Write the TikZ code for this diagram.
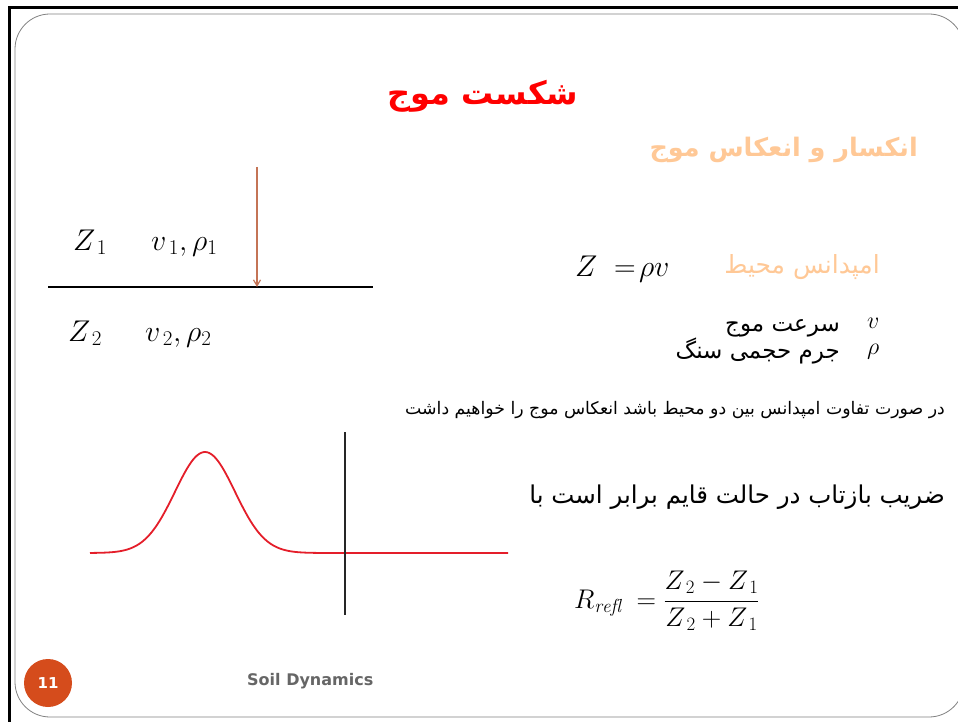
\RequirePackage{fix-cm}
\documentclass[tikz,border=0pt]{standalone}
\usepackage{amsmath}
\usepackage{fontspec}
\usetikzlibrary{arrows.meta}
\newfontfamily\arabicfont[Script=Arabic]{DejaVu Sans}
\newfontfamily\footfont{DejaVu Sans}
\TeXXeTstate=1

\definecolor{titlered}{RGB}{255,0,0}
\definecolor{peach}{RGB}{255,200,150}
\definecolor{pulsered}{RGB}{228,30,42}
\definecolor{raybrown}{RGB}{196,116,86}
\definecolor{badge}{RGB}{213,76,28}
\definecolor{footgray}{RGB}{102,102,102}

\tikzset{
  fa/.style={font=\arabicfont\fontsize{#1}{#1}\selectfont, inner sep=0pt},
  fabold/.style={font=\arabicfont\bfseries\fontsize{#1}{#1}\selectfont, inner sep=0pt},
  mathtxt/.style={font=\fontsize{#1}{#1}\selectfont, inner sep=0pt},
  pulse/.style={pulsered, line width=1.8pt},
}

\begin{document}
\begin{tikzpicture}[x=1pt, y=-1pt]
    \useasboundingbox (0,0) rectangle (958,722);

    % slide frame
    \draw[line width=3pt] (9,722) -- (9,7.5) -- (958,7.5);
    \draw[gray, line width=0.8pt, rounded corners=35pt] (15,14) rectangle (964,717);

    % headings
    \node[fabold=32, text=titlered] (title) at (483,96) {\beginR شکست موج\endR};
    \node[fabold=25.5, text=peach, anchor=east] (subtitle) at (918,150) {\beginR انکسار و انعکاس موج\endR};

    % two media and the incident ray
    \node[mathtxt=30, anchor=base west] (zone) at (73,250) {$Z_{\,1}$};
    \node[mathtxt=30, anchor=base west] (vrhoone) at (151,250) {$v_{\,1},\rho_1$};
    \node[mathtxt=30, anchor=base west] (ztwo) at (68,341) {$Z_{\,2}$};
    \node[mathtxt=30, anchor=base west] (vrhotwo) at (145,341) {$v_{\,2},\rho_2$};
    \coordinate (ifL) at (48,287);
    \coordinate (ifR) at (373,287);
    \coordinate (raytop) at (257,167);
    \coordinate (rayhit) at (257,287);
    \draw[line width=1.6pt] (ifL) -- (ifR);
    \draw[raybrown, line width=1.2pt, -{Straight Barb[length=6pt, width=7pt]}] (raytop) -- (rayhit);

    % impedance
    \node[mathtxt=30, anchor=base west] (zdef) at (575,276) {$Z\;=\!\rho v$};
    \node[fa=25, text=peach, anchor=base east] (imped) at (880,273) {\beginR امپدانس محیط\endR};
    \node[mathtxt=24, anchor=base west] (vsym) at (867,328) {$v$};
    \node[fa=23, anchor=base east] (vtext) at (840,331) {\beginR سرعت موج\endR};
    \node[mathtxt=24, anchor=base west] (rhosym) at (867,354) {$\rho$};
    \node[fa=23, anchor=base east] (rhotext) at (840,358) {\beginR جرم حجمی سنگ\endR};

    % remarks
    \node[fa=17.3, anchor=east] (remark) at (945,410) {\beginR در صورت تفاوت امپدانس بین دو محیط باشد انعکاس موج را خواهیم داشت\endR};
    \node[fa=24.5, anchor=east] (coefline) at (945,497) {\beginR ضریب بازتاب در حالت قایم برابر است با\endR};

    % reflection coefficient
    \node[mathtxt=27, anchor=west] (refl) at (574,601) {$R_{\mathit{refl}}\;=\dfrac{Z_{\,2}-Z_{\,1}}{Z_{\,2}+Z_{\,1}}$};

    % pulse meeting the boundary
    \coordinate (walltop) at (345,432);
    \coordinate (wallbot) at (345,615);
    \coordinate (pulseend) at (508,553);
    \draw[pulse] plot[domain=90:335, samples=120, smooth]
        (\x,{553-101*exp(-0.5*((\x-205)/30)*((\x-205)/30))}) -- (pulseend);
    \draw[line width=1.4pt, black!85] (walltop) -- (wallbot);

    % footer
    \node[circle, fill=badge, minimum size=48pt, inner sep=0pt, text=white,
          font=\footfont\bfseries\fontsize{15}{15}\selectfont] (pagenum) at (48,683) {11};
    \node[text=footgray, font=\footfont\bfseries\fontsize{16}{16}\selectfont, anchor=west, inner sep=0pt] (course) at (247,681) {Soil Dynamics};
\end{tikzpicture}
\end{document}
